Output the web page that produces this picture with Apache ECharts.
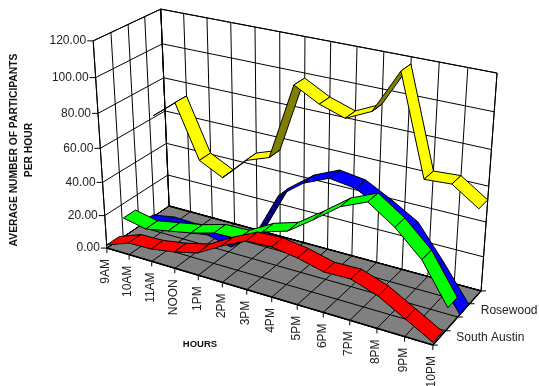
<!DOCTYPE html>
<html><head><meta charset="utf-8">
<style>html,body{margin:0;padding:0;background:#fff}#c{width:539px;height:386px}</style>
<script src="https://cdn.jsdelivr.net/npm/echarts@6/dist/echarts.min.js"></script>
</head><body><div id="c"></div>
<script>
const hours = ['9AM','10AM','11AM','NOON','1PM','2PM','3PM','4PM','5PM','6PM','7PM','8PM','9PM','10PM'];
const yTicks = [0,20,40,60,80,100,120];
const depthLabels = ['South Austin','','Rosewood',''];
const southAustin = [1.9,7.2,7.6,9.9,13.4,21.6,28.6,29.2,27,23.3,23.6,18.4,10,1.5];
const series2 = [11.4,8.5,11.2,13.9,17.9,18.3,26.4,30.9,41.3,52.4,58.8,48.8,35,12.5];
const rosewood = [1.2,3.7,3.2,5.3,1.9,12.4,40.3,51.4,57.8,55.7,48.1,39.4,20.6,0.3];
const series4 = [61.2,72.1,40.7,33.7,47.5,52.7,97.2,89.6,84.9,91.8,116.2,61.3,62.3,52.4];

// Camera: 3D box corners (category, depth, value fractions) to screen, fitted as a projective map
const frameCorners = [
 [0,0,0,107,248],[1,0,0,433,345],[1,1,0,481,291],[0,1,0,169,206],
 [0,0,1,93,41],[0,1,1,161,9],[1,1,1,497,73]
];
function fitCamera(pts){
  const rows=[],rhs=[];
  pts.forEach(([a,b,c,X,Y])=>{
    rows.push([a,b,c,1,0,0,0,0,-X*a,-X*b,-X*c]);rhs.push(X);
    rows.push([0,0,0,0,a,b,c,1,-Y*a,-Y*b,-Y*c]);rhs.push(Y);
  });
  const n=11,M=[];
  for(let r=0;r<n;r++){M.push([]);for(let s=0;s<n;s++){let t=0;rows.forEach(q=>t+=q[r]*q[s]);M[r].push(t);}
    let t=0;rows.forEach((q,k)=>t+=q[r]*rhs[k]);M[r].push(t);}
  for(let c=0;c<n;c++){let p=c;for(let r=c+1;r<n;r++)if(Math.abs(M[r][c])>Math.abs(M[p][c]))p=r;
    [M[c],M[p]]=[M[p],M[c]];
    for(let r=0;r<n;r++){if(r===c)continue;const k=M[r][c]/M[c][c];for(let s=c;s<=n;s++)M[r][s]-=k*M[c][s];}}
  return M.map((r,i)=>r[n]/r[i]);
}
const cam = fitCamera(frameCorners);
function proj(u,d,w){
  const W=cam[8]*u+cam[9]*d+cam[10]*w+1;
  return [(cam[0]*u+cam[1]*d+cam[2]*w+cam[3])/W,(cam[4]*u+cam[5]*d+cam[6]*w+cam[7])/W];
}
// hidden 100x100 grid: the axes scale category index and value to fractions
function P(api,i,v,d){const c=api.coord([i,v]);return proj(c[0]/100,d,(100-c[1])/100);}

const FONT='Liberation Sans, Arial, sans-serif';
const RIBBON_DEPTH=.19;
function seg(a,b,w){return{type:'line',shape:{x1:a[0],y1:a[1],x2:b[0],y2:b[1]},style:{stroke:'#000',lineWidth:w||1},silent:true};}
function poly(points,fill){return{type:'polygon',shape:{points},style:{fill,stroke:'#000',lineWidth:1,lineJoin:'round'},silent:true};}

function renderFrame(params,api){
  const ch=[],top=120,nx=hours.length-1,dTicks=[0,.25,.5,.75,1];
  ch.push(poly([P(api,0,0,0),P(api,0,top,0),P(api,0,top,1),P(api,0,0,1)],'#fff'));
  ch.push(poly([P(api,0,0,1),P(api,0,top,1),P(api,nx,top,1),P(api,nx,0,1)],'#fff'));
  ch.push(poly([P(api,0,0,0),P(api,nx,0,0),P(api,nx,0,1),P(api,0,0,1)],'#808080'));
  yTicks.forEach(v=>{
    ch.push(seg(P(api,0,v,0),P(api,0,v,1)));
    ch.push(seg(P(api,0,v,1),P(api,nx,v,1)));
    const a=P(api,0,v,0);
    ch.push({type:'line',shape:{x1:a[0],y1:a[1],x2:a[0]-6,y2:a[1]},style:{stroke:'#000',lineWidth:1}});
    ch.push({type:'text',x:a[0]-7,y:a[1],style:{text:v.toFixed(2),align:'right',verticalAlign:'middle',font:'12px '+FONT,fill:'#222'}});
  });
  hours.forEach((h,i)=>{
    ch.push(seg(P(api,i,0,1),P(api,i,top,1)));
    ch.push(seg(P(api,i,0,0),P(api,i,0,1)));
    const a=P(api,i,0,0);
    ch.push({type:'line',shape:{x1:a[0],y1:a[1],x2:a[0],y2:a[1]+5},style:{stroke:'#000',lineWidth:1}});
    ch.push({type:'text',x:a[0]-1,y:a[1]+11,rotation:Math.PI/2,style:{text:h,align:'right',verticalAlign:'middle',font:'12px '+FONT,fill:'#222'}});
  });
  dTicks.forEach(d=>{
    ch.push(seg(P(api,0,0,d),P(api,nx,0,d)));
    ch.push(seg(P(api,0,0,d),P(api,0,top,d)));
    const a=P(api,nx,0,d);
    ch.push({type:'line',shape:{x1:a[0],y1:a[1],x2:a[0]+5,y2:a[1]},style:{stroke:'#000',lineWidth:1}});
  });
  depthLabels.forEach((t,k)=>{
    if(!t)return;const a=P(api,nx,0,(k+.5)/4);
    ch.push({type:'text',x:a[0]+17,y:a[1],style:{text:t,align:'left',verticalAlign:'middle',font:'12px '+FONT,fill:'#222'}});
  });
  ch.push(seg(P(api,0,0,0),P(api,nx,0,0),1.5));
  ch.push(seg(P(api,0,0,1),P(api,nx,0,1),1.5));
  ch.push(seg(P(api,nx,0,0),P(api,nx,0,1),1.5));
  return{type:'group',children:ch};
}
function ribbon(values,start,face,under){
  const data=values.slice(0,-1).map((v,i)=>[i,v,values[i+1]]);
  return{type:'custom',coordinateSystem:'cartesian2d',clip:false,silent:true,data,
    encode:{x:0,y:1},
    renderItem(params,api){
      const i=api.value(0),a=api.value(1),b=api.value(2),end=start+RIBBON_DEPTH;
      const pts=[P(api,i,a,start),P(api,i+1,b,start),P(api,i+1,b,end),P(api,i,a,end)];
      let s=0;pts.forEach((p,k)=>{const q=pts[(k+1)%4];s+=p[0]*q[1]-q[0]*p[1];});
      return poly(pts,s<0?face:under);
    }};
}
const chart=echarts.init(document.getElementById('c'),null,{width:539,height:386});
chart.setOption({
  animation:false,
  grid:{left:0,top:0,width:100,height:100},
  xAxis:{type:'category',data:hours,boundaryGap:false,show:false},
  yAxis:{type:'value',min:0,max:120,interval:20,show:false},
  series:[
    {type:'custom',coordinateSystem:'cartesian2d',clip:false,silent:true,data:[[0,0]],renderItem:renderFrame},
    ribbon(series4,.81,'#ffff00','#808000'),
    ribbon(rosewood,.54,'#0000ff','#000080'),
    ribbon(series2,.27,'#00ff00','#008000'),
    ribbon(southAustin,0,'#ff0000','#800000')
  ],
  graphic:[
    {type:'text',x:22,y:150,rotation:Math.PI/2,style:{text:'AVERAGE NUMBER OF PARTICIPANTS\nPER HOUR',align:'center',verticalAlign:'middle',font:'bold 10.3px '+FONT,fill:'#111',lineHeight:15}},
    {type:'text',x:200,y:344,style:{text:'HOURS',align:'center',verticalAlign:'middle',font:'bold 9.5px '+FONT,fill:'#111'}}
  ]
});
</script></body></html>
